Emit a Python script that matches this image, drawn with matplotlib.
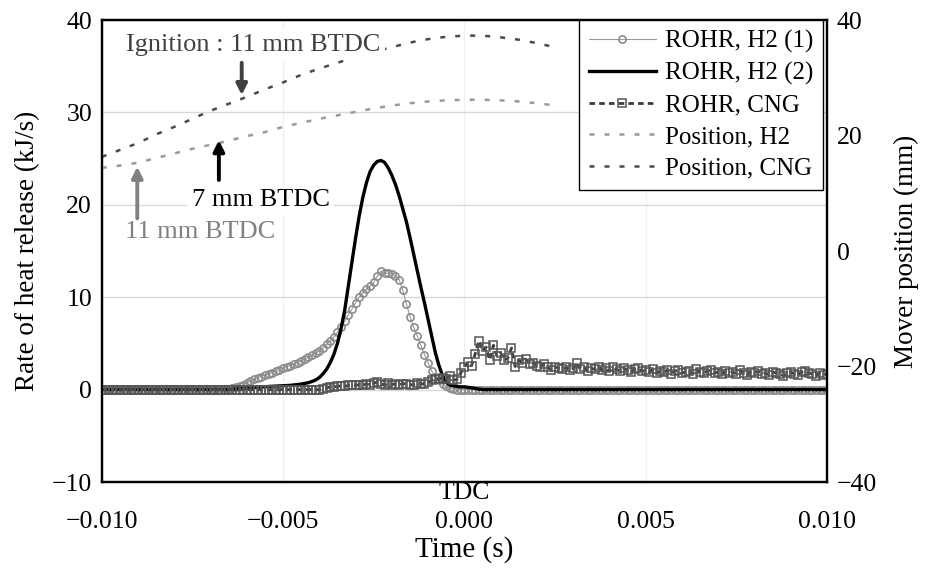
import numpy as np
import matplotlib
matplotlib.use("Agg")
import matplotlib.pyplot as plt

plt.rcParams["font.family"] = ["Liberation Serif", "DejaVu Serif"]
plt.rcParams["axes.unicode_minus"] = True

# ---------------------------------------------------------------------------
# Data
# ---------------------------------------------------------------------------

# ROHR samples every 0.1 ms from -10 ms to +10 ms
t_rohr = np.round(np.arange(-100, 101) * 0.1, 1) * 1e-3

# ROHR, H2 (1): zero until -6.7 ms, values -6.6 .. -0.3 ms, zero afterwards
rohr_h2_1_rise = [
    0.05, 0.1, 0.15, 0.3, 0.4, 0.5, 0.75, 0.9, 1.1, 1.3,
    1.4, 1.6, 1.65, 1.85, 2.0, 2.1, 2.3, 2.5, 2.6, 2.75,
    2.9, 3.1, 3.3, 3.5, 3.7, 3.95, 4.2, 4.55, 4.9, 5.3,
    5.7, 6.2, 6.8, 7.4, 8.1, 8.7, 9.4, 10.0, 10.5, 10.9,
    11.2, 11.6, 12.3, 12.8, 12.6, 12.6, 12.5, 12.3, 11.9, 10.8,
    9.3, 7.9, 6.8, 5.8, 4.8, 3.8, 2.9, 2.0, 1.4, 1.0,
    0.6, 0.35, 0.15, 0.05,
]
rohr_h2_1 = [0.0] * 34 + rohr_h2_1_rise + [0.0] * 103

# ROHR, H2 (2): zero until -6.6 ms, values -6.5 .. 0.4 ms, zero afterwards
rohr_h2_2_rise = [
    0.02, 0.05, 0.08, 0.1, 0.13, 0.16, 0.2, 0.23, 0.27, 0.3,
    0.32, 0.34, 0.36, 0.38, 0.4, 0.42, 0.44, 0.46, 0.5, 0.55,
    0.6, 0.67, 0.75, 0.88, 1.05, 1.3, 1.7, 2.2, 2.9, 3.8,
    5.0, 6.6, 8.6, 11.2, 13.8, 16.4, 18.8, 20.8, 22.4, 23.6,
    24.3, 24.7, 24.8, 24.6, 24.0, 23.2, 22.2, 21.0, 19.6, 18.2,
    16.5, 14.7, 12.9, 11.1, 9.4, 7.6, 5.8, 4.0, 2.6, 1.5,
    0.8, 0.5, 0.4, 0.35, 0.3, 0.3, 0.25, 0.2, 0.12, 0.05,
]
rohr_h2_2 = [0.0] * 35 + rohr_h2_2_rise + [0.0] * 96

# ROHR, CNG: zero until -4.0 ms, values -3.9 .. 10.0 ms
rohr_cng_rise = [
    0.1, 0.2, 0.3, 0.3, 0.35, 0.4, 0.35, 0.45, 0.5, 0.45,
    0.55, 0.5, 0.6, 0.5, 0.7, 0.8, 0.6, 0.5, 0.7, 0.55,
    0.6, 0.5, 0.65, 0.6, 0.5, 0.55, 0.7, 0.6, 0.65, 0.8,
    1.0, 1.2, 1.1, 1.3, 1.2, 1.5, 1.0, 1.1, 1.8, 2.4,
    3.0, 2.6, 3.9, 5.3, 4.2, 4.6, 3.2, 4.8, 3.6, 4.0,
    3.2, 3.4, 4.5, 2.5, 3.2, 2.9, 3.3, 2.8, 2.9, 2.6,
    2.5, 2.8, 2.4, 2.1, 2.5, 2.3, 2.2, 2.4, 2.1, 2.3,
    2.9, 2.2, 2.4, 2.0, 2.3, 2.2, 2.5, 2.1, 2.3, 2.0,
    2.4, 2.2, 2.0, 2.3, 2.1, 1.9, 2.2, 2.3, 2.0, 2.1,
    1.9, 2.2, 1.8, 2.0, 1.9, 2.1, 1.7, 2.0, 2.1, 1.8,
    1.9, 2.0, 1.7, 2.2, 1.9, 1.8, 2.0, 2.1, 1.8, 1.9,
    1.7, 2.0, 1.8, 1.9, 1.7, 2.1, 1.8, 1.6, 1.9, 1.8,
    2.0, 1.7, 1.8, 1.6, 1.9, 1.8, 1.7, 1.5, 1.8, 1.9,
    1.7, 1.6, 1.9, 2.0, 1.8, 1.7, 1.5, 1.8, 1.6, 1.7,
]
rohr_cng = [0.0] * 61 + rohr_cng_rise

# Mover position (right axis), every 0.5 ms; hidden behind the legend after ~2.5 ms
t_pos = np.round(np.arange(-20, 6) * 0.5, 1) * 1e-3
pos_h2 = [
    14.4, 14.8, 15.3, 16.1, 16.9, 17.7, 18.4, 19.1, 19.9, 20.6,
    21.5, 22.2, 22.9, 23.5, 24.1, 24.7, 25.2, 25.6, 25.9, 26.1,
    26.2, 26.2, 26.1, 25.9, 25.6, 25.2,
]
pos_cng = [
    16.3, 17.5, 18.7, 20.2, 21.5, 22.9, 24.3, 25.5, 26.7, 28.0,
    29.2, 30.5, 31.6, 32.6, 33.6, 34.5, 35.3, 36.1, 36.7, 37.1,
    37.3, 37.3, 37.0, 36.6, 36.0, 35.3,
]

x_ticks = [-0.010, -0.005, 0.000, 0.005, 0.010]
x_tick_labels = ["\u22120.010", "\u22120.005", "0.000", "0.005", "0.010"]
y_left_ticks = [-10, 0, 10, 20, 30, 40]
y_right_ticks = [-40, -20, 0, 20, 40]

# ---------------------------------------------------------------------------
# Figure
# ---------------------------------------------------------------------------

fig = plt.figure(figsize=(9.25, 5.73), dpi=100)
ax = fig.add_axes([0.110, 0.1588, 0.784, 0.8062])
ax2 = ax.twinx()

l1, = ax.plot(t_rohr, rohr_h2_1, color="#9a9a9a", lw=0.8, marker="o", ms=5.2,
              mfc="none", mec="#8c8c8c", mew=1.2, label="ROHR, H2 (1)", zorder=3)
l2, = ax.plot(t_rohr, rohr_h2_2, color="black", lw=2.4, label="ROHR, H2 (2)", zorder=4)
l3, = ax.plot(t_rohr, rohr_cng, color="#3a3a3a", lw=2.0, ls=(0, (2, 1.5)), marker="s",
              ms=5.8, mfc="none", mec="#555555", mew=1.1, label="ROHR, CNG", zorder=5)

l4, = ax2.plot(t_pos, pos_h2, color="#9a9a9a", lw=1.8, ls=(0, (2, 4)), label="Position, H2")
l5, = ax2.plot(t_pos, pos_cng, color="#4a4a4a", lw=1.8, ls=(0, (2, 4)), label="Position, CNG")

ax.set_xlim(-0.010, 0.010)
ax.set_ylim(-10, 40)
ax2.set_ylim(-40, 40)
ax.set_xticks(x_ticks)
ax.set_xticklabels(x_tick_labels)
ax.set_yticks(y_left_ticks)
ax2.set_yticks(y_right_ticks)

ax.yaxis.grid(True, color="#d9d9d9", lw=1.0)
ax.xaxis.grid(True, color="#f0f0f0", lw=1.0)
ax.set_axisbelow(True)

ax.tick_params(axis="x", length=0, labelsize=18.5, pad=21)
ax.tick_params(axis="y", length=0, labelsize=18.5, pad=7)
ax2.tick_params(axis="y", length=0, labelsize=18.5, pad=7)
for a in (ax, ax2):
    for sp in a.spines.values():
        sp.set_linewidth(1.6)
        sp.set_color("black")

fig.text(28 / 925, 1 - 251 / 573, "Rate of heat release (kJ/s)", rotation=90,
         ha="center", va="center", fontsize=19.5)
fig.text(906 / 925, 1 - 251 / 573, "Mover position (mm)", rotation=90,
         ha="center", va="center", fontsize=19.5)
fig.text(464 / 925, 1 - 550 / 573, "Time (s)", ha="center", va="center", fontsize=21)
ax.text(0.0, -10, "TDC", ha="center", va="top", fontsize=18.5,
        transform=ax.transData, clip_on=False)

# annotations (right-axis coordinates)
box = dict(facecolor="white", edgecolor="none", pad=3)
ax2.text(-0.00582, 35.7, "Ignition : 11 mm BTDC", ha="center", va="center",
         fontsize=19, color="#404040", bbox=box, zorder=6)
ax2.text(-0.00562, 8.8, "7 mm BTDC", ha="center", va="center",
         fontsize=19, color="black", bbox=box, zorder=6)
ax2.text(-0.00728, 3.3, "11 mm BTDC", ha="center", va="center",
         fontsize=19, color="#808080", bbox=box, zorder=6)

arrow_kw = dict(arrowstyle="-|>", lw=2.8, mutation_scale=16, shrinkA=0, shrinkB=0)
ax2.annotate("", xy=(-0.00614, 27.0), xytext=(-0.00614, 32.6),
             arrowprops=dict(color="#404040", **arrow_kw), zorder=7)
ax2.annotate("", xy=(-0.00677, 19.2), xytext=(-0.00677, 12.3),
             arrowprops=dict(color="black", **arrow_kw), zorder=7)
ax2.annotate("", xy=(-0.00902, 14.6), xytext=(-0.00902, 5.66),
             arrowprops=dict(color="#808080", **arrow_kw), zorder=7)

leg = ax2.legend(handles=[l1, l2, l3, l4, l5], loc="upper right",
                 bbox_to_anchor=(0.995, 1.0), borderaxespad=0, fontsize=18,
                 frameon=True, fancybox=False, framealpha=1, edgecolor="black",
                 handlelength=2.7, handletextpad=0.35, labelspacing=0.36, borderpad=0.4)
leg.get_frame().set_linewidth(1.0)
leg.set_zorder(10)

fig.savefig("out.png", dpi=100)
